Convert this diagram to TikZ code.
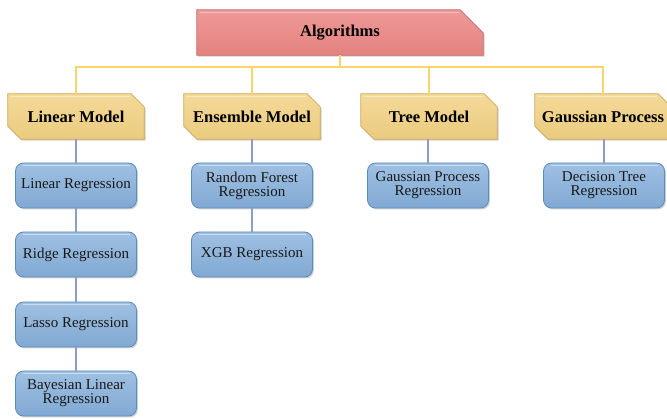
\documentclass[tikz,border=0pt]{standalone}
\usepackage{fontspec}
\setmainfont{Liberation Serif}
\usetikzlibrary{backgrounds,shadows,calc}

\definecolor{algA}{HTML}{EE9A98}
\definecolor{algB}{HTML}{E4827F}
\definecolor{algLine}{HTML}{C26A6A}
\definecolor{catA}{HTML}{F4D998}
\definecolor{catB}{HTML}{EACB7E}
\definecolor{catLine}{HTML}{C9A861}
\definecolor{leafA}{HTML}{9FC0E2}
\definecolor{leafB}{HTML}{80A9D3}
\definecolor{leafLine}{HTML}{5F8BBA}
\definecolor{trunk}{HTML}{FAD46A}
\definecolor{branch}{HTML}{8E9DC8}

\begin{document}
\begin{tikzpicture}[x=1pt,y=-1pt,
  every node/.style={inner sep=0pt, align=center},
  softshadow/.style={drop shadow={shadow xshift=1.3pt, shadow yshift=-1.5pt, opacity=0.3, fill=black!60}},
  headtext/.style={minimum width=286pt, minimum height=45pt,
    font=\bfseries\fontsize{16.5}{18}\selectfont},
  cattext/.style={minimum width=136pt, minimum height=45pt,
    font=\bfseries\fontsize{16.5}{18}\selectfont},
  leaf/.style={minimum width=121pt, minimum height=45pt, rounded corners=8pt,
    draw=leafLine, line width=0.8pt, top color=leafA, bottom color=leafB,
    softshadow, text=black!90, font=\fontsize{15}{14}\selectfont,
    path picture={\draw[white, opacity=0.45, line width=1.2pt]
      ([shift={(7pt,-2.5pt)}]path picture bounding box.north west) --
      ([shift={(-7pt,-2.5pt)}]path picture bounding box.north east);}},
  headshape/.style={draw=algLine, line width=0.8pt, top color=algA, bottom color=algB, softshadow},
  catshape/.style={draw=catLine, line width=0.8pt, top color=catA, bottom color=catB, softshadow},
  trunkline/.style={draw=trunk, line width=2.4pt},
  branchline/.style={draw=branch, line width=1.5pt},
]
\useasboundingbox (0,0) rectangle (667,419);

% title and category headings
\node[headtext] (alg) at (340,32.5) {Algorithms};
\node[cattext] (lm) at (76,116.5)  {Linear Model};
\node[cattext] (em) at (252,116.5) {Ensemble Model};
\node[cattext] (tm) at (429,116.5) {Tree Model};
\node[cattext] (gp) at (603,116.5) {Gaussian Process};

% leaf boxes
\node[leaf] (lr)  at (76,185.5)  {Linear Regression};
\node[leaf] (rr)  at (76,254.5)  {Ridge Regression};
\node[leaf] (la)  at (76,324.5)  {Lasso Regression};
\node[leaf] (bl)  at (76,393.5)  {Bayesian Linear\\Regression};
\node[leaf] (rf)  at (252,185.5) {Random Forest\\Regression};
\node[leaf] (xgb) at (252,254.5) {XGB Regression};
\node[leaf] (gpr) at (428,185.5) {Gaussian Process\\Regression};
\node[leaf] (dt)  at (604,185.5) {Decision Tree\\Regression};

% chamfered panels behind the heading texts
\begin{scope}[on background layer]
  \path[headshape] (alg.north west) -- ([xshift=-23pt]alg.north east)
    -- ([yshift=-23pt]alg.north east) -- (alg.south east)
    -- (alg.south west) -- cycle;
  \draw[white, opacity=0.4, line width=1.2pt]
    ([shift={(3pt,-2.5pt)}]alg.north west) -- ([shift={(-24pt,-2.5pt)}]alg.north east);
  \foreach \c in {lm,em,tm,gp}{
    \path[catshape] (\c.north west) -- ([xshift=-13pt]\c.north east)
      -- ([yshift=-13pt]\c.north east) -- (\c.south east)
      -- ([xshift=13pt]\c.south west) -- ([yshift=13pt]\c.south west) -- cycle;
    \draw[white, opacity=0.45, line width=1.2pt]
      ([shift={(3pt,-2.5pt)}]\c.north west) -- ([shift={(-14pt,-2.5pt)}]\c.north east);
  }
\end{scope}

% connectors from the title to the categories
\foreach \c in {lm,em,tm,gp}
  \draw[trunkline] (alg.south) -- ++(0,12) -| (\c.north);

% connectors down each column
\draw[branchline] (lm) -- (lr);
\draw[branchline] (lr) -- (rr);
\draw[branchline] (rr) -- (la);
\draw[branchline] (la) -- (bl);
\draw[branchline] (em) -- (rf);
\draw[branchline] (rf) -- (xgb);
\draw[branchline] (tm.south -| gpr) -- (gpr);
\draw[branchline] (gp.south -| dt) -- (dt);
\end{tikzpicture}
\end{document}
